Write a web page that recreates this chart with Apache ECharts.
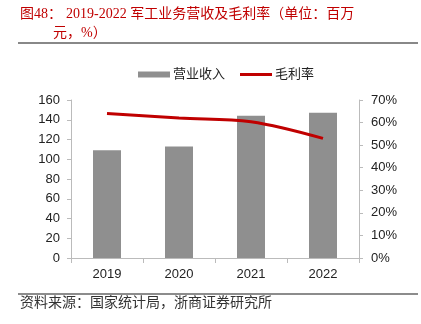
<!DOCTYPE html>
<html><head><meta charset="utf-8">
<script src="https://cdn.jsdelivr.net/npm/echarts@6/dist/echarts.min.js"></script>
<style>html,body{margin:0;padding:0;background:#fff}#c{width:421px;height:324px}</style>
</head><body><div id="c"></div>
<script>
const categories = ['2019', '2020', '2021', '2022'];
const revenue = [109, 113, 144, 147];
const margin = [64, 62, 60.4, 53];
const leftTicks = [0, 160, 20];
const rightTicks = [0, 70, 10];

const serif = "'Liberation Serif', 'Noto Sans CJK SC', serif";
const sans = "'Liberation Sans', Arial, 'Noto Sans CJK SC', sans-serif";
const chart = echarts.init(document.getElementById('c'));
chart.setOption({
  animation: false,
  backgroundColor: '#fff',
  graphic: [
    {type: 'text', x: 20, y: 14, style: {text: '图48：', font: '14px ' + serif, fill: '#c00000', verticalAlign: 'middle'}},
    {type: 'text', x: 66, y: 14, style: {text: '2019-2022 军工业务营收及毛利率（单位：百万', font: '14px ' + serif, fill: '#c00000', verticalAlign: 'middle'}},
    {type: 'text', x: 53, y: 33, style: {text: '元，%）', font: '14px ' + serif, fill: '#c00000', verticalAlign: 'middle'}},
    {type: 'line', shape: {x1: 18, y1: 43, x2: 418, y2: 43}, style: {stroke: '#888', lineWidth: 2}},
    {type: 'line', shape: {x1: 18, y1: 294, x2: 418, y2: 294}, style: {stroke: '#666', lineWidth: 1.5}},
    {type: 'text', x: 20, y: 303, style: {text: '资料来源：国家统计局，浙商证券研究所', font: '14px ' + serif, fill: '#333', verticalAlign: 'middle'}}
  ],
  legend: [
    {data: ['营业收入'], left: 133, top: 63, itemWidth: 32, itemHeight: 6, itemGap: 3, icon: 'rect',
     textStyle: {fontSize: 13, color: '#222', fontFamily: sans, padding: [0, 0, 0, -2]}},
    {data: ['毛利率'], left: 235, top: 63, itemWidth: 32, itemHeight: 3, itemGap: 3, icon: 'rect',
     textStyle: {fontSize: 13, color: '#222', fontFamily: sans, padding: [0, 0, 0, -2]}}
  ],
  grid: {left: 71, right: 62, top: 100, bottom: 66},
  xAxis: {
    type: 'category', data: categories,
    axisLine: {lineStyle: {color: '#bbb', width: 1}},
    axisTick: {show: true, length: 5, lineStyle: {color: '#bbb'}},
    axisLabel: {color: '#222', fontSize: 13, fontFamily: sans, margin: 10}
  },
  yAxis: [
    {type: 'value', min: leftTicks[0], max: leftTicks[1], interval: leftTicks[2],
     axisLine: {show: true, lineStyle: {color: '#bbb'}},
     axisTick: {show: true, length: 4, lineStyle: {color: '#bbb'}},
     splitLine: {show: false},
     axisLabel: {color: '#222', fontSize: 13, fontFamily: sans, margin: 11}},
    {type: 'value', min: rightTicks[0], max: rightTicks[1], interval: rightTicks[2], position: 'right',
     axisLine: {show: true, lineStyle: {color: '#bbb'}},
     axisTick: {show: true, length: 4, lineStyle: {color: '#bbb'}},
     splitLine: {show: false},
     axisLabel: {color: '#222', fontSize: 13, fontFamily: sans, margin: 12, formatter: '{value}%'}}
  ],
  series: [
    {name: '营业收入', type: 'bar', data: revenue, barWidth: 28, yAxisIndex: 0,
     itemStyle: {color: '#8f8f8f'}},
    {name: '毛利率', type: 'line', data: margin, yAxisIndex: 1, smooth: 0.35,
     symbol: 'none', lineStyle: {color: '#c00000', width: 3}, itemStyle: {color: '#c00000'}}
  ]
});
</script></body></html>
